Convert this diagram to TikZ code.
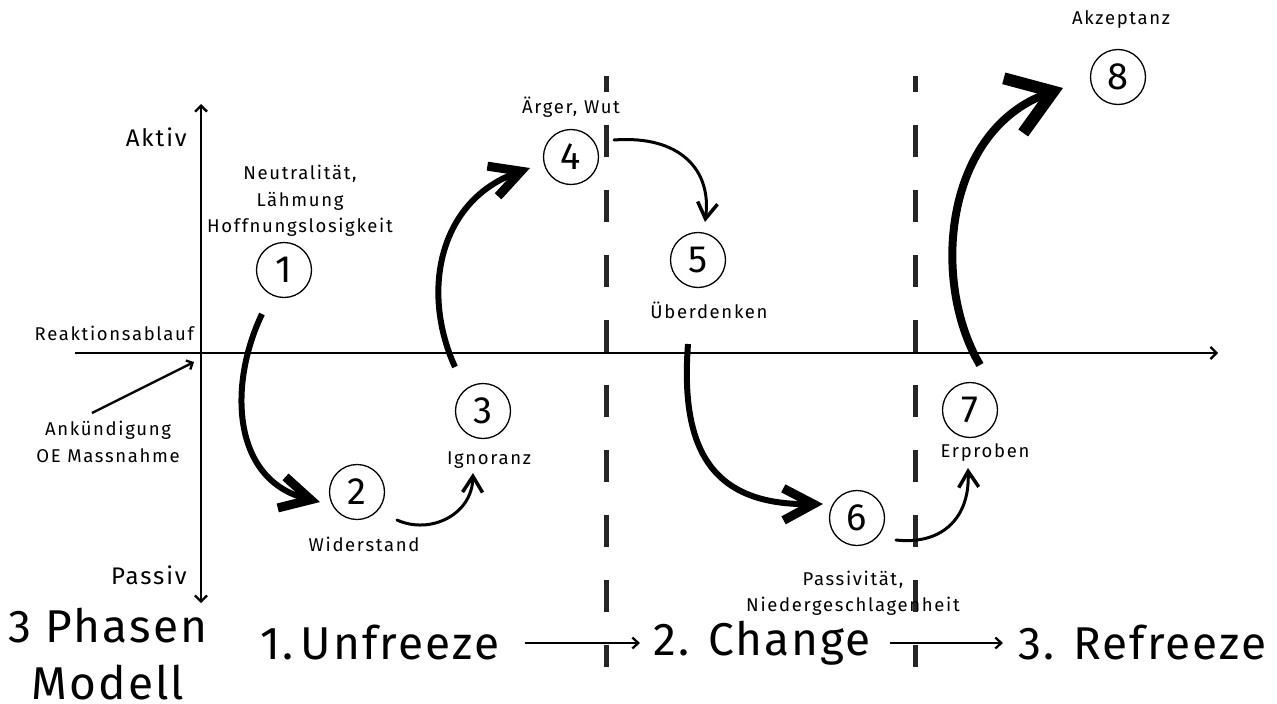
\documentclass[tikz,border=0pt]{standalone}
\usepackage{fontspec}
\setmainfont{Fira Sans}
\usetikzlibrary{arrows.meta}

\begin{document}
\begin{tikzpicture}[x=1pt,y=-1pt,
  state/.style={circle,draw,line width=1.3pt,minimum size=55pt,inner sep=0pt,
    font=\fontsize{38}{38}\selectfont},
  lbl/.style={font=\fontsize{18.5}{26.5}\selectfont\addfontfeatures{LetterSpace=9},align=center,inner sep=0pt},
  axislbl/.style={font=\fontsize{24}{28}\selectfont\addfontfeatures{LetterSpace=8},inner sep=0pt},
  big/.style={font=\fontsize{46}{57}\selectfont\addfontfeatures{LetterSpace=4.5},align=center,inner sep=0pt},
  axis/.style={line width=2.3pt,-{Straight Barb[length=6pt,width=12pt]}},
  phasearrow/.style={line width=2.3pt,-{Straight Barb[length=6pt,width=11pt]}},
  divider/.style={line width=5pt,color=black!85,dash pattern=on 32pt off 33pt,dash phase=16pt},
  thinflow/.style={line width=3pt,line cap=round,
    -{Straight Barb[length=16pt,width=20pt,line width=3.5pt]}},
  thickflow/.style={line width=6pt,
    -{Straight Barb[length=30pt,width=32pt,line width=9pt]}},
  heavyflow/.style={line width=8pt,
    -{Straight Barb[length=42pt,width=58pt,line width=12pt]}},
]
\useasboundingbox (0,0) rectangle (1277,704);

% axes
\draw[axis] (75,353) -- (1218,353);
\draw[line width=2.3pt,{Straight Barb[length=6pt,width=12pt]}-{Straight Barb[length=6pt,width=12pt]}] (201,603) -- (201,104);

% phase dividers
\draw[divider] (606,76) -- (606,667);
\draw[divider] (915,76) -- (915,667);

% axis labels
\node[axislbl,anchor=east] (aktiv) at (187,137) {Aktiv};
\node[axislbl,anchor=east] (passiv) at (187,575) {Passiv};
\node[lbl,anchor=east] (ablauf) at (194,333) {Reaktionsablauf};
\node[lbl] (ankuend) at (108,442) {Ankündigung\\OE Massnahme};
\coordinate (origin) at (194,362);
\draw[line width=2.3pt,-{Straight Barb[length=5pt,width=10pt]}] (92,413) -- (origin);

% states
\node[state] (n1) at (284,270) {1};
\node[state] (n2) at (357,492) {2};
\node[state] (n3) at (483,411) {3};
\node[state] (n4) at (571,157) {4};
\node[state] (n5) at (698,260) {5};
\node[state] (n6) at (857,518) {6};
\node[state] (n7) at (970,410) {7};
\node[state] (n8) at (1118,77) {8};

% state labels
\node[lbl] (l1) at (300,201) {Neutralität,\\Lähmung\\Hoffnungslosigkeit};
\node[lbl] (l2) at (364,544) {Widerstand};
\node[lbl] (l3) at (489,460) {Ignoranz};
\node[lbl] (l4) at (571,107) {Ärger, Wut};
\node[lbl] (l5) at (709,310) {Überdenken};
\node[lbl] (l6) at (853,593) {Passivität,\\Niedergeschlagenheit};
\node[lbl] (l7) at (985,453) {Erproben};
\node[lbl] (l8) at (1121,20) {Akzeptanz};

% reaction flow
\draw[thickflow] ([shift={(-22,44)}]n1.center) .. controls (228,385) and (232,480) .. ([shift={(-37,10)}]n2.center);
\draw[thinflow] ([shift={(40,28)}]n2.center) .. controls (430,535) and (472,515) .. ([shift={(-10,62)}]n3.center);
\draw[thickflow] ([shift={(-28,-44)}]n3.center) .. controls (420,290) and (440,200) .. ([shift={(-41,11)}]n4.center);
\draw[thinflow] ([shift={(43,-17)}]n4.center) .. controls (680,135) and (712,170) .. ([shift={(7,-38)}]n5.center);
\draw[thickflow] ([shift={(-10,84)}]n5.center) .. controls (680,450) and (712,505) .. ([shift={(-34,-14)}]n6.center);
\draw[thinflow] ([shift={(39,22)}]n6.center) .. controls (940,545) and (970,520) .. ([shift={(-2,58)}]n7.center);
\draw[heavyflow] ([shift={(10,-45)}]n7.center) .. controls (930,280) and (945,130) .. ([shift={(-55,11)}]n8.center);

% phase model
\node[big] (modell) at (108,654) {3 Phasen\\Modell};
\node[big,anchor=west] (unfreeze) at (260,643) {1.\,Unfreeze};
\node[big,anchor=west] (change) at (653,643) {2. Change};
\node[big,anchor=west] (refreeze) at (1018,643) {3. Refreeze};
\coordinate (u1) at (525,643);
\coordinate (c1) at (640,643);
\coordinate (u2) at (890,643);
\coordinate (c2) at (1003,643);
\draw[phasearrow] (u1) -- (c1);
\draw[phasearrow] (u2) -- (c2);
\end{tikzpicture}
\end{document}
